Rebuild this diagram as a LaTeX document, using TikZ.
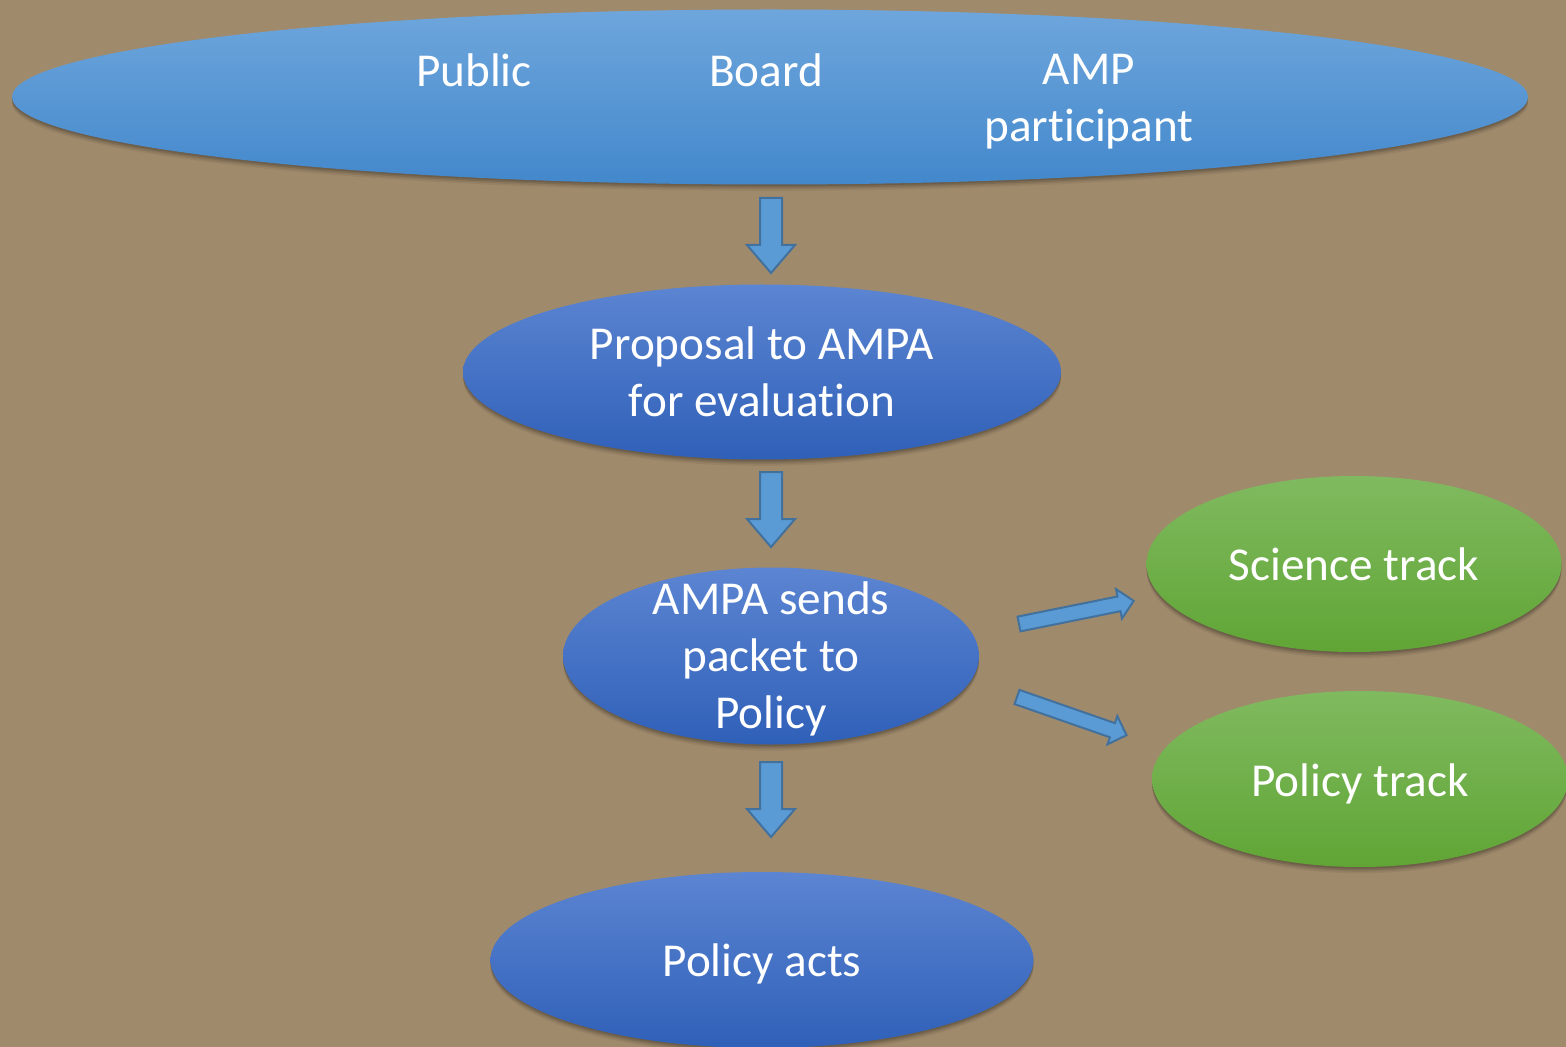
\documentclass[tikz,border=0pt]{standalone}
\usepackage{fontspec}
\setmainfont{Carlito}[Ligatures=NoCommon]
\usetikzlibrary{shapes.geometric,shadows}
\definecolor{bgc}{HTML}{A08A6C}
\definecolor{lbtop}{HTML}{6EA6DC}
\definecolor{lbbot}{HTML}{4388CC}
\definecolor{dbtop}{HTML}{5C85D2}
\definecolor{dbbot}{HTML}{2F60B8}
\definecolor{grtop}{HTML}{80BA60}
\definecolor{grbot}{HTML}{60A535}
\definecolor{arfill}{HTML}{5B9BD5}
\definecolor{arline}{HTML}{41719C}
\tikzset{
  oval/.style={ellipse, inner sep=0pt,
    drop shadow={shadow xshift=0pt, shadow yshift=-0.8pt, opacity=0.12, fill=black},
    drop shadow={shadow xshift=0pt, shadow yshift=-1.6pt, opacity=0.10, fill=black},
    drop shadow={shadow xshift=0pt, shadow yshift=-2.4pt, opacity=0.08, fill=black},
    drop shadow={shadow xshift=0pt, shadow yshift=-3.2pt, opacity=0.05, fill=black}},
  lightoval/.style={oval, top color=lbtop, bottom color=lbbot},
  blueoval/.style={oval, top color=dbtop, bottom color=dbbot},
  greenoval/.style={oval, top color=grtop, bottom color=grbot},
  lbl/.style={text=white, font=\fontsize{23.6}{28.4}\selectfont, align=center, inner sep=0pt},
  blockarrow/.pic={
    \draw[fill=arfill, draw=arline, line width=1pt, line join=miter]
      (0,-\sw) -- (\hb,-\sw) -- (\hb,-\hw) -- (\al,0) -- (\hb,\hw) -- (\hb,\sw) -- (0,\sw) -- cycle;
  }
}
\newcommand{\setarrow}[4]{\def\al{#1}\def\sw{#2}\def\hw{#3}\pgfmathsetmacro{\hb}{#1-#4}}
\begin{document}
\begin{tikzpicture}[x=0.5pt, y=-0.5pt]
\useasboundingbox (0,0) rectangle (1566,1047);
\clip (0,0) rectangle (1566,1047);
\fill[bgc] (0,0) rectangle (1566,1047);

% ovals
\node[lightoval, minimum width=758pt, minimum height=87.5pt] (top) at (770,97) {};
\node[blueoval, minimum width=299pt, minimum height=87.5pt] (prop) at (762,372) {};
\node[blueoval, minimum width=208pt, minimum height=88.5pt] (sends) at (771,656) {};
\node[blueoval, minimum width=271.5pt, minimum height=88pt] (acts) at (762,960) {};
\node[greenoval, minimum width=207.5pt, minimum height=88pt] (sci) at (1354,564) {};
\node[greenoval, minimum width=208pt, minimum height=88pt] (pol) at (1360,779) {};

% texts
\node[lbl] (public) at (474,70) {Public};
\node[lbl] (board) at (766,70) {Board};
\node[lbl] (amp) at (1089,102) {AMP\\participant};
\node[lbl] (proptext) at (762,372) {Proposal to AMPA\\for evaluation};
\node[lbl] (sendstext) at (771,659) {AMPA sends\\packet to\\Policy};
\node[lbl] (actstext) at (762,964) {Policy acts};
\node[lbl] (scitext) at (1354,564) {Science track};
\node[lbl] (poltext) at (1360,784) {Policy track};

% block arrows
\setarrow{75}{11}{24}{28}
\pic[rotate=-90] at (771,198) {blockarrow};
\pic[rotate=-90] at (771,472) {blockarrow};
\pic[rotate=-90] at (771,762) {blockarrow};
\setarrow{117}{7.5}{15}{15}
\pic[rotate=11.4] at (1019,624) {blockarrow};
\setarrow{116}{7.5}{15}{15}
\pic[rotate=-19.2] at (1017,697) {blockarrow};
\end{tikzpicture}
\end{document}
